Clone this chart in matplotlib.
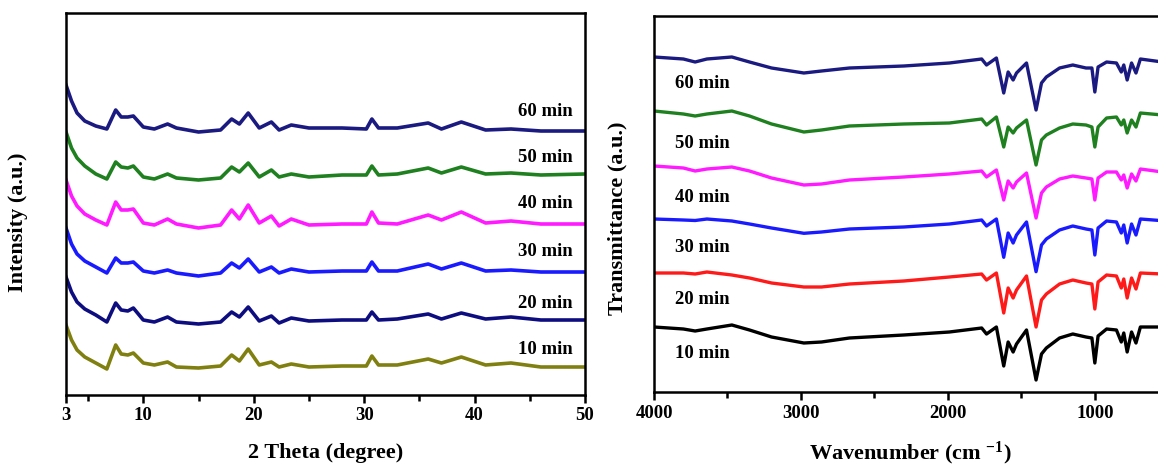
import matplotlib
matplotlib.use("Agg")
import matplotlib.pyplot as plt
from matplotlib.ticker import FixedLocator

plt.rcParams['font.family'] = ['Liberation Serif', 'DejaVu Serif']
plt.rcParams['font.weight'] = 'bold'
plt.rcParams['mathtext.fontset'] = 'custom'
plt.rcParams['mathtext.rm'] = 'Liberation Serif:bold'
plt.rcParams['mathtext.it'] = 'Liberation Serif:bold'
plt.rcParams['mathtext.bf'] = 'Liberation Serif:bold'

# --- XRD (left) ---
two_theta = [3, 3.5, 4, 4.7, 5.7, 6.7, 7.5, 8.0, 8.6, 9.1, 10.0, 11.0, 12.2, 13.0, 15.0, 17.0,
             18.0, 18.7, 19.5, 20.5, 21.6, 22.3, 23.4, 25.0, 28.0, 30.2, 30.7, 31.3, 33.0, 35.8,
             37.0, 38.8, 41.0, 43.3, 46.0, 50.0]
xrd_60 = [310, 294, 282, 274, 269, 266, 285, 278, 278, 279, 268, 266, 271, 267, 263, 265,
          276, 271, 282, 267, 273, 265, 270, 267, 267, 266, 276, 267, 267, 272,
          266, 273, 265, 266, 264, 264]
xrd_50 = [263, 247, 237, 229, 221, 216, 233, 228, 227, 229, 218, 216, 221, 217, 215, 217,
          228, 223, 232, 218, 225, 218, 221, 218, 220, 220, 229, 220, 221, 227,
          222, 228, 221, 222, 220, 221]
xrd_40 = [215, 199, 189, 181, 175, 170, 193, 185, 185, 186, 172, 170, 176, 171, 167, 170,
          185, 176, 190, 172, 179, 169, 176, 170, 171, 171, 183, 172, 171, 180,
          175, 183, 172, 174, 171, 171]
xrd_30 = [167, 151, 141, 134, 128, 122, 137, 132, 132, 133, 124, 122, 125, 122, 119, 122,
          132, 127, 136, 123, 128, 122, 126, 123, 124, 124, 133, 124, 124, 131,
          126, 132, 124, 125, 123, 123]
xrd_20 = [118, 103, 93, 86, 80, 73, 92, 85, 84, 87, 75, 73, 78, 73, 71, 73,
          83, 78, 88, 74, 79, 72, 77, 74, 75, 75, 83, 75, 76, 81,
          76, 82, 76, 78, 75, 75]
xrd_10 = [70, 55, 45, 38, 32, 26, 50, 41, 40, 42, 32, 30, 33, 28, 27, 29,
          40, 34, 46, 30, 33, 28, 31, 28, 29, 29, 39, 30, 30, 36,
          32, 38, 30, 32, 28, 28]
xrd_label_y = [283, 238, 192, 143, 92, 46]

# --- FTIR (right) ---
wavenumber = [4000, 3800, 3720, 3640, 3470, 3350, 3200, 2980, 2860, 2670, 2300, 1990, 1770,
              1737, 1670, 1620, 1590, 1556, 1533, 1465, 1400, 1363, 1330, 1240, 1150, 1060,
              1020, 1000, 978, 920, 853, 820, 803, 780, 750, 720, 690, 540]
ir_60 = [335, 333, 330, 333, 335, 330, 324, 319, 321, 324, 326, 329, 333, 327, 334, 299, 320,
         312, 319, 329, 282, 309, 315, 324, 327, 324, 324, 300, 325, 330, 329, 320, 327, 312,
         329, 319, 333, 330]
ir_50 = [281, 278, 276, 278, 281, 276, 268, 260, 262, 266, 268, 269, 273, 267, 275, 245, 265,
         259, 264, 272, 227, 252, 257, 264, 268, 267, 265, 245, 265, 274, 275, 267, 272, 259,
         272, 265, 279, 277]
ir_40 = [226, 224, 221, 223, 225, 221, 214, 207, 208, 212, 215, 218, 221, 215, 222, 192, 211,
         204, 210, 219, 174, 199, 205, 213, 216, 214, 213, 192, 214, 220, 220, 212, 217, 204,
         218, 211, 223, 220]
ir_30 = [173, 172, 171.5, 173, 171, 168, 164, 158.7, 160, 163, 165, 168, 172, 166, 173, 134.7,
         159, 149, 157, 170, 120.3, 147, 153, 162, 166, 163, 162, 137, 164, 171, 170, 159, 167,
         149, 168, 157, 173, 171.3]
ir_20 = [119, 119, 118, 120, 117, 114, 109, 105, 105, 108, 111, 115, 118, 112, 119, 79, 104,
         94, 102, 116, 65, 92, 98, 108, 112, 109, 108, 83, 110, 117, 116, 104, 113, 94, 114,
         103, 119, 118]
ir_10 = [65, 63, 61, 63, 67, 62, 55, 49, 50, 54, 57, 60, 64, 58, 65, 26, 50, 40, 48, 62, 12,
         38, 44, 54, 58, 55, 54, 29, 56, 63, 62, 50, 59, 40, 60, 49, 65, 65]
ir_label_y = [309, 249, 195, 144, 93, 39]

labels = ['60 min', '50 min', '40 min', '30 min', '20 min', '10 min']
xrd_colors = ['#1a1a80', '#1f801f', '#ff1aff', '#1a1aff', '#0d0d80', '#808010']
ir_colors = ['#1a1a80', '#1f801f', '#ff1aff', '#1a1aff', '#ff1a1a', '#000000']

fig = plt.figure(figsize=(11.58, 4.67), dpi=100)

def style_axes(ax):
    for s in ax.spines.values():
        s.set_linewidth(1.8)
    ax.tick_params(axis='x', which='major', direction='out', length=6, width=1.8,
                   labelsize=13.5, pad=3)
    ax.tick_params(axis='x', which='minor', direction='out', length=4, width=1.8)
    ax.set_yticks([])

# left panel
ax1 = fig.add_axes([66 / 1158, 72 / 467, 519 / 1158, 382 / 467])
xrd = [xrd_60, xrd_50, xrd_40, xrd_30, xrd_20, xrd_10]
for ys, c in zip(xrd, xrd_colors):
    ax1.plot(two_theta, ys, color=c, lw=2.6, solid_joinstyle='round')
for lab, ly in zip(labels, xrd_label_y):
    ax1.text(46.4, ly, lab, ha='center', va='center', fontsize=13.5, fontweight='bold')
ax1.set_xlim(3, 50)
ax1.set_ylim(0, 382)
ax1.xaxis.set_major_locator(FixedLocator([3, 10, 20, 30, 40, 50]))
ax1.xaxis.set_minor_locator(FixedLocator([5, 15, 25, 35, 45]))
style_axes(ax1)
ax1.set_xlabel('2 Theta (degree)', fontsize=16, fontweight='bold')
ax1.set_ylabel('Intensity (a.u.)', fontsize=16, fontweight='bold')
ax1.xaxis.set_label_coords(0.5, -0.125)
ax1.yaxis.set_label_coords(-0.074, 0.453)

# right panel
ax2 = fig.add_axes([654 / 1158, 75 / 467, 529 / 1158, 376 / 467])
ir = [ir_60, ir_50, ir_40, ir_30, ir_20, ir_10]
for ys, c in zip(ir, ir_colors):
    ax2.plot(wavenumber, ys, color=c, lw=2.4, solid_joinstyle='round')
for lab, ly in zip(labels, ir_label_y):
    ax2.text(3857, ly, lab, ha='left', va='center', fontsize=13.5, fontweight='bold')
ax2.set_xlim(4000, 400)
ax2.set_ylim(0, 376)
ax2.xaxis.set_major_locator(FixedLocator([4000, 3000, 2000, 1000]))
ax2.xaxis.set_minor_locator(FixedLocator([3500, 2500, 1500, 500]))
style_axes(ax2)
ax2.set_xlabel(r'Wavenumber (cm $^{-1}$)', fontsize=16, fontweight='bold')
ax2.set_ylabel('Transmittance (a.u.)', fontsize=16, fontweight='bold')
ax2.xaxis.set_label_coords(0.484, -0.127)
ax2.yaxis.set_label_coords(-0.05, 0.463)

fig.savefig('out.png', dpi=100)
